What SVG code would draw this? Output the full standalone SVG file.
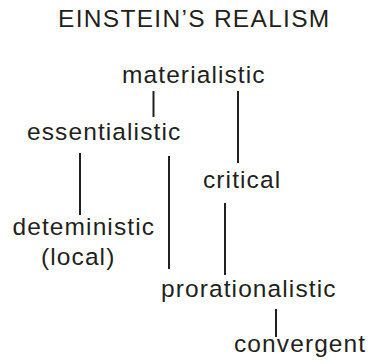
<svg xmlns="http://www.w3.org/2000/svg" width="370" height="364" viewBox="0 0 370 364">
<style>
text{font-family:"Liberation Sans",Arial,sans-serif;font-size:24.5px;letter-spacing:1.1px;fill:#231f20}
.title{letter-spacing:1.3px}
.conn line{stroke:#231f20;stroke-width:2}
</style>
<rect width="370" height="364" fill="#fff"/>
<g id="title"><text class="title" x="58" y="27">EINSTEIN’S REALISM</text></g>
<g class="conn" id="connectors">
<line x1="153.5" y1="91" x2="153.5" y2="117"/>
<line x1="238" y1="91" x2="238" y2="163"/>
<line x1="80" y1="153" x2="80" y2="215"/>
<line x1="169" y1="156" x2="169" y2="269"/>
<line x1="225" y1="203" x2="225" y2="275"/>
<line x1="276" y1="309" x2="276" y2="337"/>
</g>
<g id="materialistic"><text x="122" y="83">materialistic</text></g>
<g id="essentialistic"><text x="27" y="140">essentialistic</text></g>
<g id="critical"><text x="203" y="188">critical</text></g>
<g id="deteministic"><text x="12.5" y="234.5">deteministic</text><text x="41" y="265">(local)</text></g>
<g id="prorationalistic"><text x="161" y="297">prorationalistic</text></g>
<g id="convergent"><text x="234" y="352">convergent</text></g>
</svg>
